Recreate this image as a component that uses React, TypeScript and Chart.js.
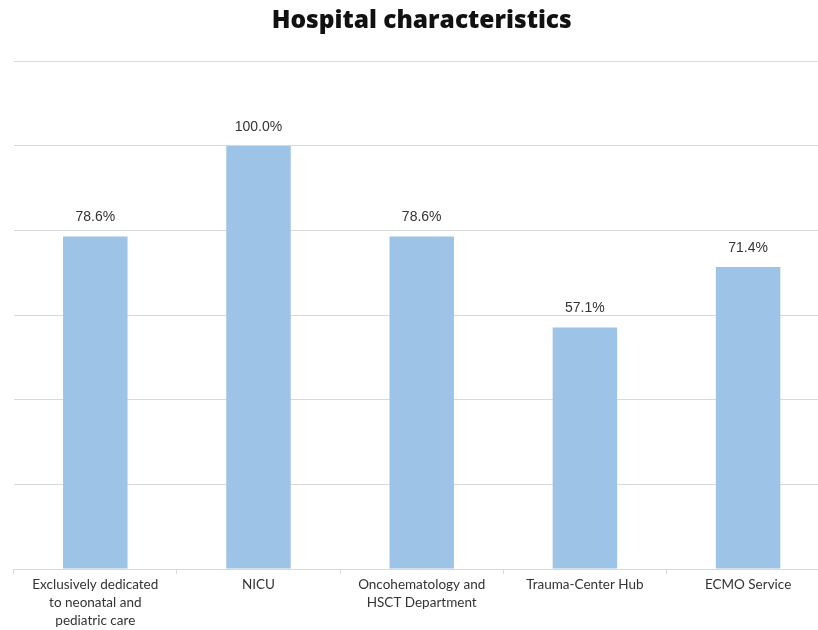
import React, { useEffect, useRef } from "react";
import { Chart, registerables } from "chart.js";

Chart.register(...registerables);

const titleText = "Hospital characteristics";
const categories: (string | string[])[] = [
  ["Exclusively dedicated", "to neonatal and", "pediatric care"],
  "NICU",
  ["Oncohematology and", "HSCT Department"],
  "Trauma-Center Hub",
  "ECMO Service",
];
const values = [78.6, 100.0, 78.6, 57.1, 71.4];
const yMin = 0;
const yMax = 120;
const yStep = 20;

const barColor = "#9DC3E6";
const gridColor = "#d9d9d9";

const valueLabelPlugin = {
  id: "valueLabels",
  afterDatasetsDraw(chart: any) {
    const ctx = chart.ctx;
    const meta = chart.getDatasetMeta(0);
    ctx.save();
    ctx.fillStyle = "#333333";
    ctx.font = "14px 'Liberation Sans', Arial, sans-serif";
    ctx.textAlign = "center";
    ctx.textBaseline = "middle";
    meta.data.forEach((bar: any, i: number) => {
      const v = chart.data.datasets[0].data[i] as number;
      ctx.fillText(v.toFixed(1) + "%", bar.x, bar.y - 19);
    });
    ctx.restore();
  },
};

export default function App() {
  const ref = useRef<HTMLCanvasElement | null>(null);
  useEffect(() => {
    if (!ref.current) return;
    const chart = new Chart(ref.current, {
      type: "bar",
      data: {
        labels: categories,
        datasets: [
          {
            data: values,
            backgroundColor: barColor,
            borderWidth: 0,
            barPercentage: 0.395,
            categoryPercentage: 1,
          },
        ],
      },
      options: {
        responsive: false,
        animation: false,
        layout: { padding: { left: 13.7, right: 14.3, top: 0, bottom: 0 } },
        plugins: {
          legend: { display: false },
          tooltip: { enabled: false },
          title: {
            display: true,
            text: titleText,
            color: "#111111",
            font: { family: "'Open Sans', 'Noto Sans', sans-serif", size: 24.5, weight: "800", lineHeight: 1.2 },
            padding: { top: 6, bottom: 26 },
          },
        },
        scales: {
          x: {
            grid: {
              display: true,
              drawOnChartArea: false,
              drawTicks: true,
              tickLength: 5,
              color: gridColor,
              offset: true,
            },
            border: { display: true, color: gridColor, width: 1 },
            ticks: {
              color: "#333333",
              font: { family: "Lato, 'Noto Sans', sans-serif", size: 13.5, lineHeight: 1.33 },
              padding: 2,
              maxRotation: 0,
              autoSkip: false,
            },
            afterFit(scale: any) {
              scale.height = 61;
            },
          },
          y: {
            min: yMin,
            max: yMax,
            ticks: { display: false, stepSize: yStep },
            grid: { color: gridColor, drawTicks: false, lineWidth: 1 },
            border: { display: false },
            afterFit(scale: any) {
              scale.width = 0;
            },
          },
        },
      },
      plugins: [valueLabelPlugin],
    });
    return () => chart.destroy();
  }, []);
  return (
    <div style={{ position: "fixed", left: 0, top: 0, width: 818, height: 630, overflow: "hidden", background: "#fff" }}>
      <canvas ref={ref} width={844} height={630} style={{ width: 844, height: 630, display: "block" }} />
    </div>
  );
}
